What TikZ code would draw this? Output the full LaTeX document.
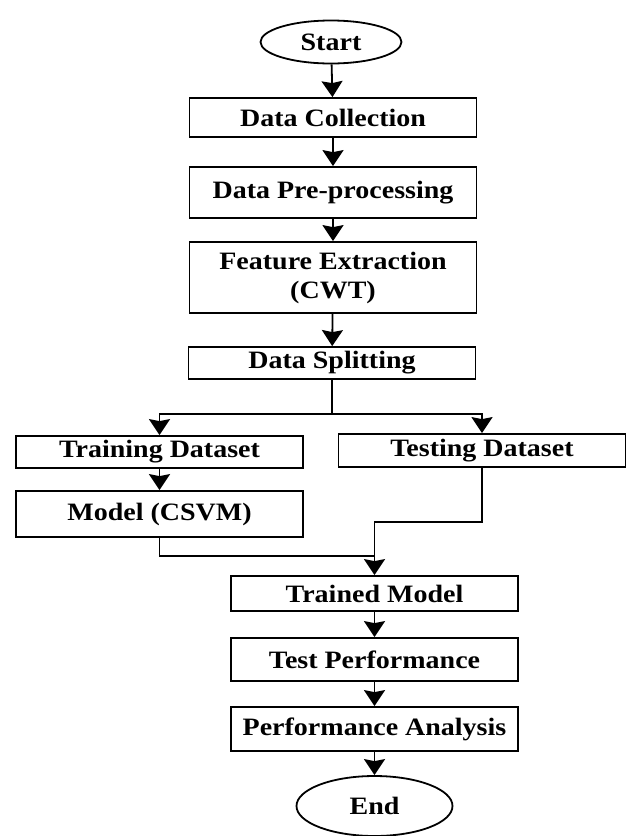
\documentclass[tikz,border=0pt]{standalone}
\usepackage{fontspec}
\setmainfont{Liberation Serif}[FakeStretch=1.12]
\usetikzlibrary{shapes.geometric,arrows.meta}

\tikzset{
	block/.style={draw, line width=1.8pt, minimum width=287pt, inner sep=0pt, align=center,
		font=\bfseries\fontsize{25}{29}\selectfont},
	term/.style={draw, ellipse, line width=1.8pt, inner sep=0pt,
		font=\bfseries\fontsize{25}{29}\selectfont},
	link/.style={line width=1.8pt},
	arr/.style={line width=1.8pt, -{Stealth[length=16pt,width=21pt,inset=2pt]}}
}

\begin{document}
\begin{tikzpicture}[x=1pt, y=-1pt]
			%%%%% START %%%%%
			\useasboundingbox (0, 0) rectangle (630, 836);
			
			\node[term, minimum width=141pt, minimum height=43pt] (start) at (331, 42) {Start};
			
			\node[block, minimum height=39pt] (coll) at (333, 117.5) {Data Collection};
			\node[block, minimum height=51pt] (prep) at (333, 192.5) {Data Pre-processing};
			\node[block, minimum height=71pt] (feat) at (333, 277.5) {Feature Extraction\\(CWT)};
			\node[block, minimum height=32pt] (split) at (332, 363) {Data Splitting};
			
			\node[block, minimum height=32pt] (train) at (159.5, 452) {Training Dataset};
			\node[block, minimum height=33pt] (test) at (482, 450.5) {Testing Dataset};
			\node[block, minimum height=46pt] (model) at (159.5, 514) {Model (CSVM)};
			
			\node[block, minimum height=35pt] (trained) at (374.5, 593.5) {Trained Model};
			\node[block, minimum height=43pt] (perf) at (374.5, 659.5) {Test Performance};
			\node[block, minimum height=44pt] (anal) at (374.5, 729) {Performance Analysis};
			
			\node[term, minimum width=156pt, minimum height=60pt] (end) at (374.5, 806) {End};
			
			% main line
			\draw[arr] (start) -- (coll);
			\draw[arr] (coll) -- (prep);
			\draw[arr] (prep) -- (feat);
			\draw[arr] (feat) -- (split);
			
			% split into two branches
			\coordinate (fork) at (332, 414);
			\draw[link] (split) -- (fork);
			\draw[arr] (fork) -| (train);
			\draw[arr] (fork) -| (test);
			\draw[arr] (train) -- (model);
			
			% both branches meet again
			\coordinate (tbend) at (374.5, 522);
			\coordinate (join) at (374.5, 556);
			\draw[link] (test) |- (tbend) -- (join);
			\draw[link] (model) |- (join);
			\draw[arr] (join) -- (trained);
			
			\draw[arr] (trained) -- (perf);
			\draw[arr] (perf) -- (anal);
			\draw[arr] (anal) -- (end);
			%%%%% END %%%%%
\end{tikzpicture}
\end{document}
